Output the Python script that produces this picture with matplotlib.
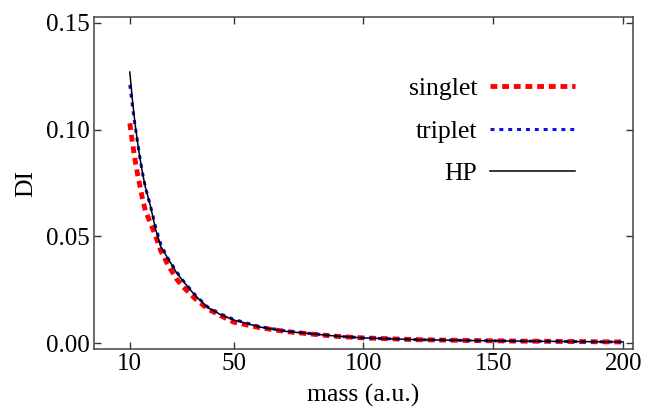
import matplotlib
matplotlib.use("Agg")
import matplotlib.pyplot as plt

plt.rcParams['font.family'] = 'serif'
plt.rcParams['font.serif'] = ['Liberation Serif', 'DejaVu Serif']
plt.rcParams['mathtext.fontset'] = 'stix'

# mass values (a.u.)
mass = [10, 11, 12, 13, 14, 15, 16, 18, 20, 22, 25, 28, 30, 35, 40, 45, 50,
        60, 70, 80, 90, 100, 120, 140, 160, 180, 200]

singlet = [0.103, 0.094, 0.086, 0.079, 0.073, 0.067, 0.062, 0.056, 0.050, 0.043,
           0.036, 0.030, 0.027, 0.021, 0.0160, 0.0128, 0.0098,
           0.0072, 0.0054, 0.0042, 0.0031, 0.0024, 0.0016, 0.0012, 0.0009, 0.0007, 0.0005]

triplet = [0.121, 0.111, 0.102, 0.094, 0.086, 0.079, 0.073, 0.064, 0.054, 0.046,
           0.039, 0.0335, 0.030, 0.0228, 0.0169, 0.0136, 0.0111,
           0.0077, 0.0057, 0.0044, 0.0032, 0.0024, 0.0016, 0.0012, 0.0009, 0.0007, 0.0005]

hp = [0.127, 0.114, 0.103, 0.094, 0.086, 0.079, 0.073, 0.064, 0.053, 0.045,
      0.039, 0.033, 0.0298, 0.0225, 0.0166, 0.0133, 0.0108,
      0.0075, 0.0055, 0.0043, 0.0032, 0.0024, 0.0016, 0.0012, 0.0009, 0.0007, 0.0005]

x_ticks = [10, 50, 100, 150, 200]
y_ticks = [0.00, 0.05, 0.10, 0.15]

fig = plt.figure(figsize=(6.45, 4.12), dpi=100)
ax = fig.add_axes([0.1457, 0.1529, 0.8357, 0.8058])

ax.plot(mass, singlet, color='#ff0000', lw=3.5, linestyle=(0, (1.4, 1.0)),
        label='singlet', solid_capstyle='butt')
ax.plot(mass, triplet, color='#1010e0', lw=2.2, linestyle=(0, (1.3, 1.6)),
        label='triplet')
ax.plot(mass, hp, color='black', lw=1.1, label='HP')

ax.set_xlim(-3.8, 203.8)
ax.set_ylim(-0.0028, 0.1528)
ax.set_xticks(x_ticks)
ax.set_yticks(y_ticks)
ax.set_yticklabels(['%.2f' % v for v in y_ticks])

ax.tick_params(direction='in', top=True, right=True, length=5, width=1,
               labelsize=18, colors='#333333', labelcolor='black', pad=3)
for s in ax.spines.values():
    s.set_color('#444444')
    s.set_linewidth(1.1)

ax.set_xlabel('mass (a.u.)', fontsize=18.5, labelpad=6)
ax.set_ylabel('DI', fontsize=18.5, labelpad=6)

ax.legend(loc='upper right', bbox_to_anchor=(0.935, 0.888), frameon=False,
          markerfirst=False, fontsize=18.5, handlelength=3.3, labelspacing=0.75,
          handletextpad=0.5)

fig.savefig('out.png', dpi=100)
